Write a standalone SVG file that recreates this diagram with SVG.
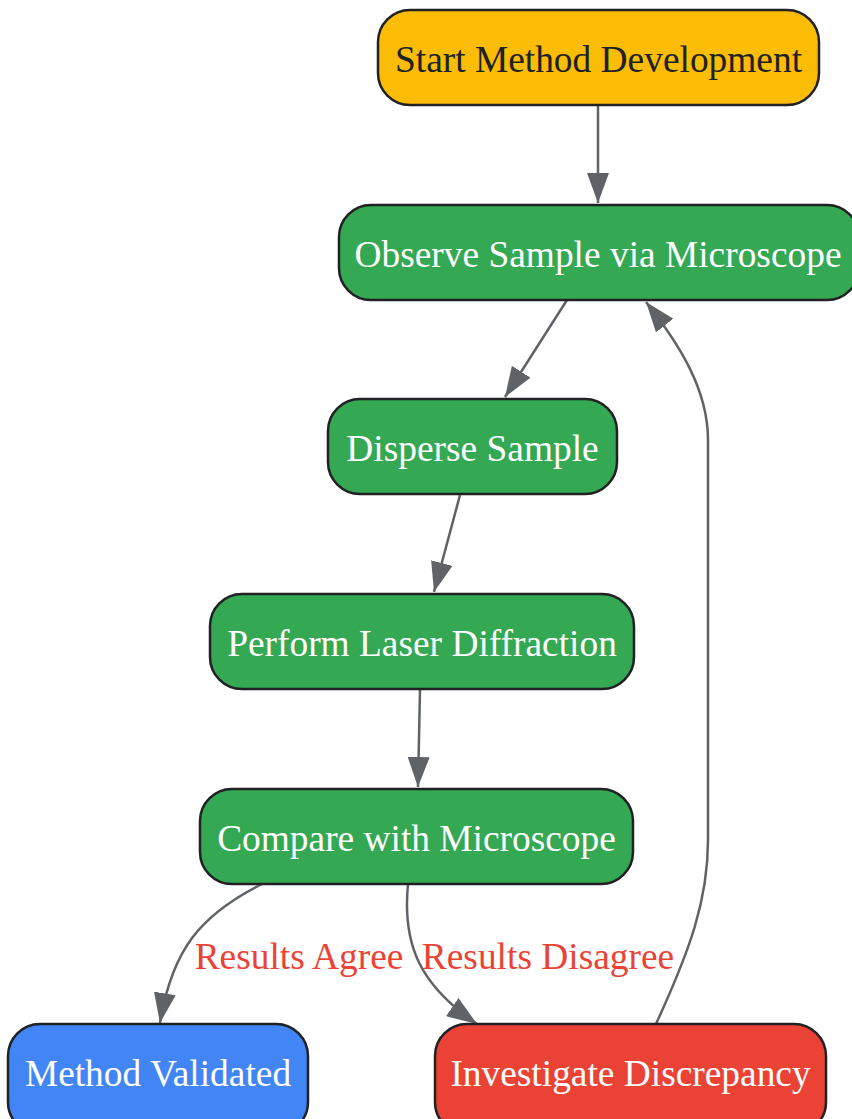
<svg xmlns="http://www.w3.org/2000/svg" width="852" height="1119" viewBox="0 0 852 1119">
<style>
.node rect{stroke:#202124;stroke-width:2.5}
.node text{font-family:"Liberation Serif","Times New Roman",serif;font-size:37.4px;text-anchor:middle;fill:#ffffff}
.edge{fill:none;stroke:#5F6368;stroke-width:2.5}
.lbl{font-family:"Liberation Serif","Times New Roman",serif;font-size:37.4px;fill:#EA4335;text-anchor:middle}
</style>
<defs>
<marker id="arr" markerUnits="userSpaceOnUse" markerWidth="30" markerHeight="22" refX="30" refY="11" orient="auto">
<path d="M0,0 L30,11 L0,22 z" fill="#5F6368"/>
</marker>
</defs>
<rect width="852" height="1119" fill="#ffffff"/>
<g id="connectors">
<path class="edge" d="M598,105 L598,203" marker-end="url(#arr)"/>
<path class="edge" d="M567,300 L505,397" marker-end="url(#arr)"/>
<path class="edge" d="M460,495 L434,592" marker-end="url(#arr)"/>
<path class="edge" d="M420,690 L418,787" marker-end="url(#arr)"/>
<path class="edge" d="M262,884 C200,915 172,950 160,1023" marker-end="url(#arr)"/>
<path class="edge" d="M408,884 C402,945 420,985 477,1024" marker-end="url(#arr)"/>
<path class="edge" d="M656,1024 C690,950 708,900 708,840 L708,440 C708,390 680,345 646,302" marker-end="url(#arr)"/>
<text class="lbl" x="299" y="969">Results Agree</text>
<text class="lbl" x="548" y="969">Results Disagree</text>
</g>
<g id="start" class="node">
<rect x="378" y="10" width="441" height="95" rx="32" fill="#FBBC05"/>
<text x="598.5" y="71.5" style="fill:#202124">Start Method Development</text>
</g>
<g id="observe" class="node">
<rect x="339" y="205" width="520" height="95" rx="32" fill="#34A853"/>
<text x="598" y="266.5">Observe Sample via Microscope</text>
</g>
<g id="disperse" class="node">
<rect x="328" y="399" width="289" height="95" rx="32" fill="#34A853"/>
<text x="472.5" y="460.5">Disperse Sample</text>
</g>
<g id="laser" class="node">
<rect x="210" y="594" width="424" height="95" rx="32" fill="#34A853"/>
<text x="422" y="655.5">Perform Laser Diffraction</text>
</g>
<g id="compare" class="node">
<rect x="200" y="789" width="433" height="95" rx="32" fill="#34A853"/>
<text x="416.5" y="850.5">Compare with Microscope</text>
</g>
<g id="validated" class="node">
<rect x="8" y="1024" width="300" height="110" rx="32" fill="#4285F4"/>
<text x="158" y="1085.5">Method Validated</text>
</g>
<g id="investigate" class="node">
<rect x="435" y="1024" width="391" height="110" rx="32" fill="#EA4335"/>
<text x="630.5" y="1085.5">Investigate Discrepancy</text>
</g>
</svg>
